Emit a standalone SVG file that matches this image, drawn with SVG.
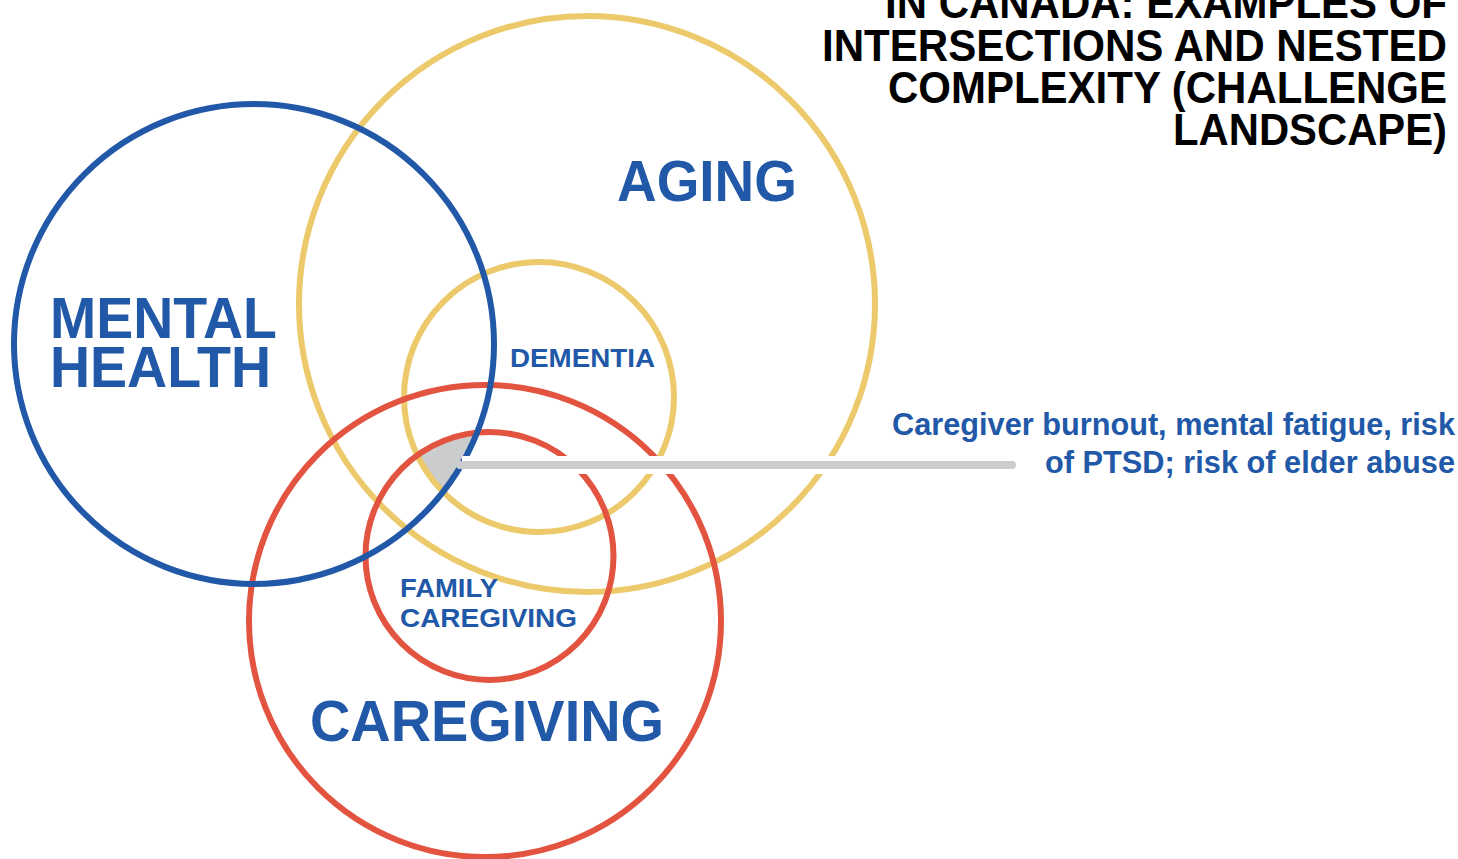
<svg xmlns="http://www.w3.org/2000/svg" width="1458" height="859" viewBox="0 0 1458 859">
<style>
.ring{fill:none;stroke-width:6}
.blue{stroke:#2159a8}
.yellow{stroke:#ecca6c}
.red{stroke:#e35440}
.lbl{font-family:"Liberation Sans",Arial,sans-serif;font-weight:bold;fill:#2159a8}
.title{font-family:"Liberation Sans",Arial,sans-serif;font-weight:bold;fill:#000;font-size:45px;text-anchor:end}
</style>
<defs>
<clipPath id="cBlue"><circle cx="254" cy="344" r="240"/></clipPath>
<clipPath id="cDem"><circle cx="539" cy="397" r="135"/></clipPath>
</defs>
<rect width="1458" height="859" fill="#fff"/>
<g id="overlap">
<g clip-path="url(#cBlue)"><g clip-path="url(#cDem)"><circle cx="489.5" cy="556" r="124" fill="#cbcccd"/></g></g>
</g>
<g id="aging"><circle class="ring yellow" cx="587" cy="304" r="288"/><text class="lbl" x="617" y="201" font-size="58" textLength="180" lengthAdjust="spacingAndGlyphs">AGING</text></g>
<g id="dementia"><circle class="ring yellow" cx="539" cy="397" r="135"/><text class="lbl" x="510" y="367" font-size="26" textLength="145" lengthAdjust="spacingAndGlyphs">DEMENTIA</text></g>
<g id="caregiving"><circle class="ring red" cx="485" cy="621" r="236"/><text class="lbl" x="310" y="741" font-size="58" textLength="354" lengthAdjust="spacingAndGlyphs">CAREGIVING</text></g>
<g id="family-caregiving"><circle class="ring red" cx="489.5" cy="556" r="124"/><text class="lbl" font-size="26"><tspan x="400" y="597" textLength="98" lengthAdjust="spacingAndGlyphs">FAMILY</tspan><tspan x="400" y="627" textLength="177" lengthAdjust="spacingAndGlyphs">CAREGIVING</tspan></text></g>
<g id="mental-health"><circle class="ring blue" cx="254" cy="344" r="240"/><text class="lbl" font-size="58"><tspan x="50" y="338" textLength="227" lengthAdjust="spacingAndGlyphs">MENTAL</tspan><tspan x="50" y="387" textLength="221" lengthAdjust="spacingAndGlyphs">HEALTH</tspan></text></g>
<g id="connectors">
<line x1="462" y1="465" x2="1012" y2="465" stroke="#fff" stroke-width="18"/>
<line x1="460" y1="465" x2="1012" y2="465" stroke="#cbcccd" stroke-width="8" stroke-linecap="round"/>
</g>
<g id="callout"><text class="lbl" font-size="31" text-anchor="end"><tspan x="1455" y="435" textLength="563" lengthAdjust="spacingAndGlyphs">Caregiver burnout, mental fatigue, risk</tspan><tspan x="1455" y="473" textLength="410" lengthAdjust="spacingAndGlyphs">of PTSD; risk of elder abuse</tspan></text></g>
<g id="title"><text class="title"><tspan x="1447" y="18" textLength="562" lengthAdjust="spacingAndGlyphs">IN CANADA: EXAMPLES OF</tspan><tspan x="1447" y="61" textLength="625" lengthAdjust="spacingAndGlyphs">INTERSECTIONS AND NESTED</tspan><tspan x="1447" y="103" textLength="559" lengthAdjust="spacingAndGlyphs">COMPLEXITY (CHALLENGE</tspan><tspan x="1447" y="145" textLength="274" lengthAdjust="spacingAndGlyphs">LANDSCAPE)</tspan></text></g>
</svg>
